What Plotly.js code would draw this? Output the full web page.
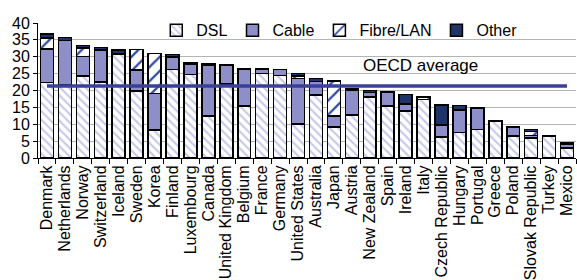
<!DOCTYPE html>
<html>
<head>
<meta charset="utf-8">
<script src="https://cdn.plot.ly/plotly-3.0.1.min.js"></script>
<style>
html,body{margin:0;padding:0;background:#fff;}
#chart{width:577px;height:280px;}
</style>
</head>
<body>
<div id="chart"></div>
<script>
var countries = ["Denmark","Netherlands","Norway","Switzerland","Iceland","Sweden","Korea","Finland","Luxembourg","Canada","United Kingdom","Belgium","France","Germany","United States","Australia","Japan","Austria","New Zealand","Spain","Ireland","Italy","Czech Republic","Hungary","Portugal","Greece","Poland","Slovak Republic","Turkey","Mexico"];
var dsl   = [22.4,21.6,24.3,22.5,30.8,19.8,8.3,26.2,24.8,12.4,22.0,15.4,25.0,24.5,10.1,18.7,9.2,12.8,18.1,15.4,14.0,17.4,6.2,7.6,8.4,11.0,6.5,6.0,6.5,3.0];
var cable = [9.9,13.2,5.8,9.5,0,6.3,10.8,3.8,2.9,15.2,5.5,10.9,1.4,1.7,13.5,3.9,3.3,7.3,1.3,4.0,2.0,0,3.4,6.6,6.4,0,2.6,0.6,0,1.2];
var fibre = [3.3,0,2.5,0,0,6.0,11.8,0,0,0,0,0,0,0,0.7,0,10.3,0,0,0,0,0.5,0.3,0,0,0,0,1.2,0,0];
var other = [1.1,0.9,0.8,0.7,1.2,0,0,0.7,0.4,0.2,0.1,0.1,0,0,0.7,0.9,0,0.4,0.6,0.2,2.8,0.2,5.8,1.3,0.1,0,0.1,0.7,0,0.4];
var oecdAverage = 21.3;
var seriesNames = ["DSL","Cable","Fibre/LAN","Other"];
var yTickValues = [0,5,10,15,20,25,30,35,40];

var outline = {color:"#000", width:1.5};
var traces = [
  {type:"bar", name:seriesNames[0], x:countries, y:dsl,
   marker:{color:"#ffffff", line:outline, pattern:{shape:"\\", fgcolor:"#c6c6ea", bgcolor:"#ffffff", size:6, solidity:0.35}}},
  {type:"bar", name:seriesNames[1], x:countries, y:cable,
   marker:{color:"#8e8ec8", line:outline}},
  {type:"bar", name:seriesNames[2], x:countries, y:fibre,
   marker:{color:"#ffffff", line:outline, pattern:{shape:"/", fgcolor:"#2f4ba3", bgcolor:"#ffffff", size:10, solidity:0.22}}},
  {type:"bar", name:seriesNames[3], x:countries, y:other,
   marker:{color:"#1f3466", line:outline}},
  {type:"scatter", mode:"lines", name:"OECD average", showlegend:false,
   x:[countries[0], countries[countries.length-1]], y:[oecdAverage, oecdAverage],
   line:{color:"#3b3f98", width:3.5}}
];

var layout = {
  width:577, height:280,
  margin:{l:38, r:1, t:23, b:122, pad:0},
  paper_bgcolor:"#fff", plot_bgcolor:"#fff",
  barmode:"stack", bargap:0.28,
  font:{family:"Arial, 'Liberation Sans', sans-serif", color:"#000"},
  xaxis:{type:"category", tickangle:-90, tickfont:{size:16},
         tickmode:"array", tickvals:countries, ticktext:countries,
         showline:true, linecolor:"#000", linewidth:1,
         ticks:"outside", tickson:"boundaries", ticklen:5, tickcolor:"#000",
         showgrid:false, zeroline:false, range:[-0.5,29.5]},
  yaxis:{range:[0,40], tickmode:"array", tickvals:yTickValues, tickfont:{size:16},
         showline:true, linecolor:"#000", linewidth:1,
         ticks:"outside", ticklen:4, tickcolor:"#000",
         showgrid:true, gridcolor:"#b4b4b4", gridwidth:1, zeroline:false},
  legend:{orientation:"h", x:0.56, xanchor:"center", y:0.946, yanchor:"middle",
          font:{size:16}, bgcolor:"rgba(0,0,0,0)", traceorder:"normal", itemwidth:30},
  annotations:[{text:"OECD average", xref:"paper", yref:"y", x:0.822, y:27.5,
                showarrow:false, font:{size:17, color:"#000"}}],
  showlegend:true
};

Plotly.newPlot("chart", traces, layout, {displayModeBar:false, staticPlot:true});
</script>
</body>
</html>
